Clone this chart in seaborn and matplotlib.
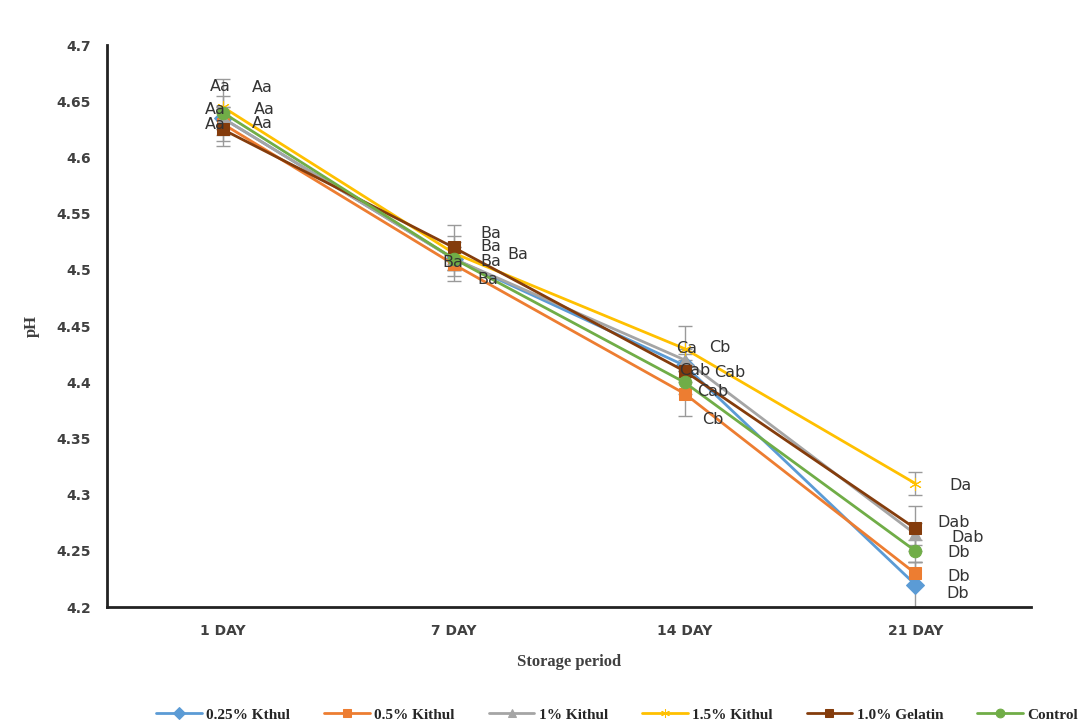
import matplotlib
matplotlib.use("Agg")
import matplotlib.pyplot as plt
import pandas as pd
import seaborn as sns

days = ["1 DAY", "7 DAY", "14 DAY", "21 DAY"]
series = ["0.25% Kthul", "0.5% Kithul", "1% Kithul", "1.5% Kithul", "1.0% Gelatin", "Control"]

ph_025 = [4.635, 4.51, 4.415, 4.22]
ph_05 = [4.63, 4.505, 4.39, 4.23]
ph_1 = [4.635, 4.51, 4.42, 4.265]
ph_15 = [4.645, 4.515, 4.43, 4.31]
ph_gel = [4.625, 4.52, 4.41, 4.27]
ph_ctrl = [4.64, 4.51, 4.40, 4.25]

err_025 = [0.01, 0.01, 0.01, 0.02]
err_05 = [0.01, 0.01, 0.02, 0.01]
err_1 = [0.01, 0.01, 0.01, 0.01]
err_15 = [0.01, 0.01, 0.02, 0.01]
err_gel = [0.01, 0.02, 0.01, 0.02]
err_ctrl = [0.03, 0.02, 0.01, 0.01]

lab_025 = ["Aa", "Ba", "Cab", "Db"]
lab_05 = ["Aa", "Ba", "Cb", "Db"]
lab_1 = ["Aa", "Ba", "Cb", "Dab"]
lab_15 = ["Aa", "Ba", "Ca", "Da"]
lab_gel = ["Aa", "Ba", "Cab", "Dab"]
lab_ctrl = ["Aa", "Ba", "Cab", "Db"]

values = [ph_025, ph_05, ph_1, ph_15, ph_gel, ph_ctrl]
errors = [err_025, err_05, err_1, err_15, err_gel, err_ctrl]
letters = [lab_025, lab_05, lab_1, lab_15, lab_gel, lab_ctrl]

colors = ["#5B9BD5", "#ED7D31", "#A5A5A5", "#FFC000", "#843C0C", "#70AD47"]
markers = ["D", "s", "^", (6, 2, 0), "s", "o"]

# label offsets in pixels (dx, dy) from each point, per series
offsets = [
    [(42, 9), (37, -3), (45, -7), (42, -9)],
    [(40, 0), (34, -15), (28, -26), (43, -3)],
    [(40, 31), (37, 12), (35, 12), (52, -3)],
    [(-2, 20), (37, 20), (2, 0), (45, -2)],
    [(-7, 5), (64, -7), (10, 1), (38, 6)],
    [(-7, 3), (-1, -4), (28, -9), (43, -2)],
]

df = pd.DataFrame(
    [(s, d, v[i]) for s, v in zip(series, values) for i, d in enumerate(days)],
    columns=["series", "day", "ph"],
)

sns.set_style("white")
fig = plt.figure(figsize=(10.84, 7.28), dpi=100)
ax = fig.add_axes([0.099, 0.166, 0.852, 0.772])

for k, s in enumerate(series):
    sub = df[df["series"] == s]
    sns.lineplot(data=sub, x="day", y="ph", ax=ax, color=colors[k], marker=markers[k],
                 markersize=9, markeredgecolor=colors[k], linewidth=2, label=s, sort=False)
    ax.errorbar(range(len(days)), values[k], yerr=errors[k], fmt="none",
                ecolor="#9A9A9A", elinewidth=1, capsize=5, zorder=1)
    for i in range(len(days)):
        ax.annotate(letters[k][i], (i, values[k][i]), xytext=offsets[k][i],
                    textcoords="offset pixels", ha="center", va="center",
                    fontsize=11.5, color="#333333")

ax.set_xlim(-0.5, 3.5)
ax.set_ylim(4.2, 4.7)
ax.set_yticks([4.2, 4.25, 4.3, 4.35, 4.4, 4.45, 4.5, 4.55, 4.6, 4.65, 4.7])
ax.set_yticklabels(["4.2", "4.25", "4.3", "4.35", "4.4", "4.45", "4.5", "4.55", "4.6", "4.65", "4.7"])
ax.set_xticks(range(len(days)))
ax.set_xticklabels(days)
ax.tick_params(axis="both", length=0, labelsize=10, labelcolor="#404040", pad=12)
for t in ax.get_xticklabels() + ax.get_yticklabels():
    t.set_fontweight("bold")
ax.set_xlabel("Storage period", fontsize=12, fontweight="bold", family="Liberation Serif",
              color="#404040", labelpad=12)
ax.set_ylabel("pH", fontsize=12, fontweight="bold", family="Liberation Serif",
              color="#404040", labelpad=12)
for side in ["top", "right"]:
    ax.spines[side].set_visible(False)
for side in ["left", "bottom"]:
    ax.spines[side].set_color("#222222")
    ax.spines[side].set_linewidth(2)

ax.legend(loc="upper center", bbox_to_anchor=(0.552, -0.155), ncol=6, frameon=False,
          prop={"family": "Liberation Serif", "weight": "bold", "size": 11},
          handlelength=3.0, columnspacing=2.2, handletextpad=0.3, markerscale=0.7)

fig.savefig("out.png", dpi=100)
